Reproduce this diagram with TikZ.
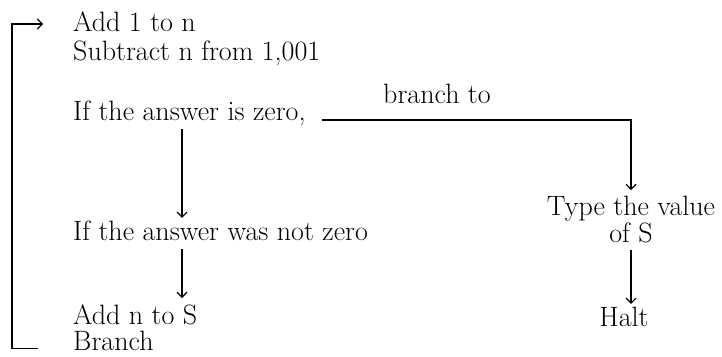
\documentclass[tikz,border=0pt]{standalone}
\usepackage{tikz}
\usetikzlibrary{calc,arrows.meta}
\tikzset{
txt/.style={font=\fontsize{28}{32}\selectfont,inner sep=1pt,text height=16pt,text depth=2pt},
twoline/.style={font=\fontsize{28}{24}\selectfont,inner sep=1pt},
flow/.style={-{Straight Barb[length=5pt,width=10pt]},line width=1.1pt,shorten <=6pt,shorten >=5pt},
loopline/.style={-{Straight Barb[length=5pt,width=10pt]},line width=1.1pt}
}

\begin{document}
\begin{tikzpicture}[x=1pt,y=-1pt]
\useasboundingbox (0,0) rectangle (722,356);
\node[txt,anchor=base west] (add1) at (72,31) {Add 1 to n};
\node[txt,anchor=base west] (sub) at (72,60) {Subtract n from 1,001};
\node[txt,anchor=base west] (ifz) at (72,120) {If the answer is zero,};
\node[txt,anchor=base west] (brto) at (382,103) {branch to};
\node[txt,anchor=base west] (ifnz) at (72,240) {If the answer was not zero};
\node[twoline,font=\fontsize{28}{26}\selectfont,align=left,anchor=base west] (adds) at (72,350) {Add n to S\\Branch};
\node[twoline,align=center,anchor=base] (type) at (631,242) {Type the value\\of S};
\node[txt,anchor=base] (halt) at (624,326) {Halt};
\coordinate (col) at (182,0);
\draw[flow] (ifz.south -| col) -- (ifnz.north -| col);
\draw[flow] (ifnz.south -| col) -- (adds.north -| col);
\draw[flow] ([xshift=9pt]ifz.base east) -| (type.north);
\draw[flow] (type.south) -- (halt.north -| type.south);
\draw[loopline] ([shift={(-34,-3)}]adds.south west) -- ++(-26,0) |- ([shift={(-29,-7)}]add1.base west);
\end{tikzpicture}
\end{document}
